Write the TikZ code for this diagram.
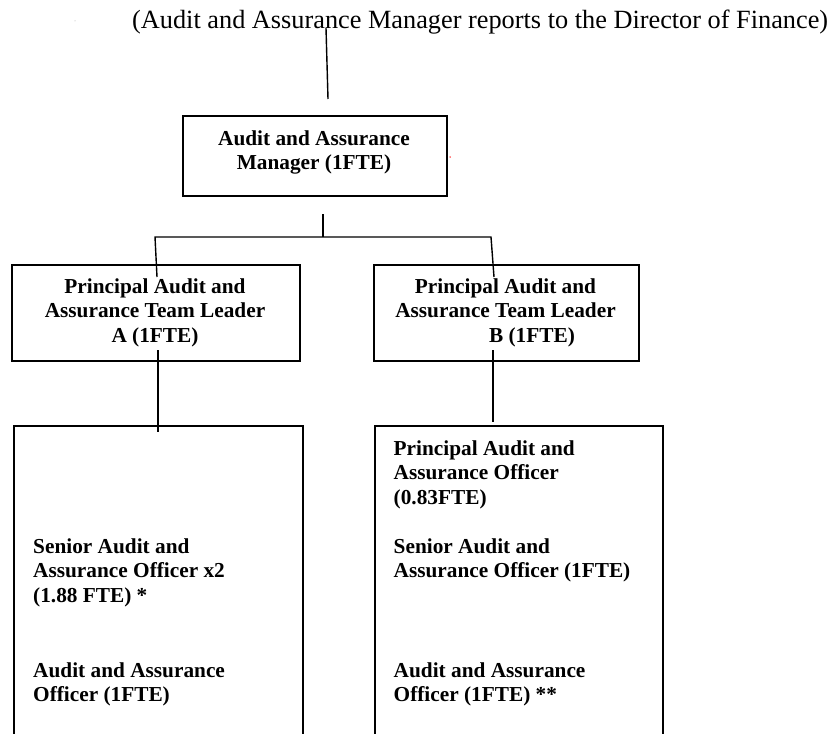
\documentclass[tikz,border=0pt]{standalone}
\usepackage{fontspec}
\setmainfont{Liberation Serif}
\begin{document}
\begin{tikzpicture}[x=1pt,y=-1pt,
  box/.style={draw, line width=2pt, inner sep=0pt, anchor=north west},
  lowbox/.style={draw, line width=1.5pt, inner sep=0pt, anchor=north west},
  lbl/.style={font=\fontsize{21.3}{24.5}\selectfont\bfseries, inner sep=0pt},
  ctr/.style={lbl, align=center, anchor=north},
  lft/.style={lbl, align=left, anchor=north west},
  link/.style={line width=1.4pt},
  speck/.style={inner sep=0pt, minimum size=1.5pt, circle, fill}]
\useasboundingbox (0,0) rectangle (837,733);
\clip (0,0) rectangle (837,733);

% heading
\node[font=\fontsize{26.3}{30}\selectfont, inner sep=0pt, anchor=base west] (note) at (132,29)
  {(Audit and Assurance Manager reports to the Director of Finance)};

% boxes
\node[box, minimum width=264, minimum height=80] (mgr) at (182,115) {};
\node[box, minimum width=288, minimum height=96] (tlA) at (11,264) {};
\node[box, minimum width=265, minimum height=96] (tlB) at (373,264) {};
\node[lowbox, minimum width=289, minimum height=340] (teamA) at (13,425) {};
\node[lowbox, minimum width=288, minimum height=340] (teamB) at (374,425) {};

% box texts
\node[ctr] (mgrtxt) at (314,127.85) {\strut Audit and Assurance\\Manager (1FTE)};
\node[ctr] (tlAtxt) at (155,275.85) {\strut Principal Audit and\\Assurance Team Leader\\A (1FTE)};
\node[ctr] (tlBtxt) at (505.5,275.85) {\strut Principal Audit and\\Assurance Team Leader\\\hspace*{53pt}B (1FTE)};

\node[lft] (a1) at (33,535.85) {\strut Senior Audit and\\Assurance Officer x2\\(1.88 FTE) *};
\node[lft] (a2) at (33,659.85) {\strut Audit and Assurance\\Officer (1FTE)};
\node[lft] (b1) at (393.5,437.85) {\strut Principal Audit and\\Assurance Officer\\(0.83FTE)};
\node[lft] (b2) at (393.5,535.85) {\strut Senior Audit and\\Assurance Officer (1FTE)};
\node[lft] (b3) at (393.5,659.85) {\strut Audit and Assurance\\Officer (1FTE) **};

% connector points
\coordinate (dirtop) at (326,28);
\coordinate (dirbot) at (328,99);
\coordinate (stemtop) at (323,214);
\coordinate (barmid) at (323,237);
\coordinate (barL) at (155,237);
\coordinate (barR) at (491,237);
\coordinate (dropA) at (157,277);
\coordinate (dropB) at (494,277);
\coordinate (aTop) at (158,350);
\coordinate (aBot) at (158,432);
\coordinate (bTop) at (493,350);
\coordinate (bBot) at (493,422);

% connectors
\draw[link] (dirtop) -- (dirbot);
\draw[link] (stemtop) -- (barmid);
\draw[link] (dropA) -- (barL) -- (barR) -- (dropB);
\draw[link] (aTop) -- (aBot);
\draw[link] (bTop) -- (bBot);

% stray marks
\node[speck, fill=gray!70, minimum size=1pt] (dot1) at (75,21) {};
\node[speck, fill=red] (dot2) at (450,157) {};
\end{tikzpicture}
\end{document}
